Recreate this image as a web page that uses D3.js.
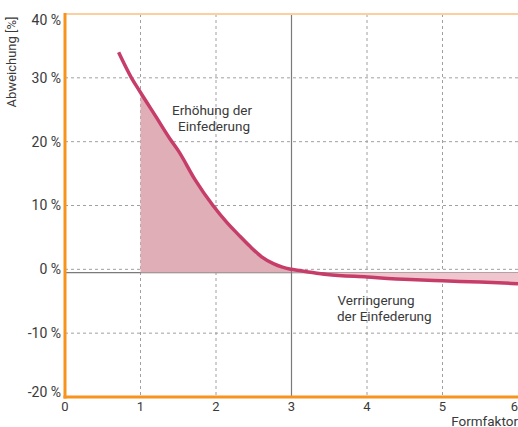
<!DOCTYPE html>
<html><head><meta charset="utf-8">
<script src="https://cdn.jsdelivr.net/npm/d3@7"></script>
<style>body{margin:0;background:#fff}svg{display:block}text{font-family:Roboto,"Liberation Sans",sans-serif;fill:#3a3a3a}</style>
</head><body>
<svg id="c" width="518" height="427"></svg>
<script>
const xTicks = [0,1,2,3,4,5,6];
const yTicks = [-20,-10,0,10,20,30,40];
const curveX = [0.71,0.88,0.99,1.20,1.41,1.50,1.72,1.96,2.14,2.30,2.45,2.60,2.76,2.88,3.00,3.25,3.47,4.00,4.57,5.00,5.50,6.00];
const curveY = [34.0,30.0,27.9,24.0,20.1,18.6,14.1,10.0,7.4,5.4,3.6,2.0,0.9,0.35,0.0,-0.45,-0.8,-1.2,-1.6,-1.8,-2.0,-2.25];
const baseline = -0.5;
const fillStart = 1, split = 3;

const svg = d3.select("#c");
const x = d3.scaleLinear().domain([0,6]).range([65,518]);
const y = d3.scaleLinear().domain([-20,40]).range([397,14]);
const pts = curveX.map((v,i)=>[v,curveY[i]]);

// grid
const g = svg.append("g");
g.selectAll(".vg").data(xTicks.filter(d=>d>0&&d<6&&d!==3)).enter().append("line")
  .attr("x1",d=>x(d)).attr("x2",d=>x(d)).attr("y1",y(40)).attr("y2",y(-20))
  .attr("stroke","#a0a0a0").attr("stroke-width",1).attr("stroke-dasharray","3,3");
g.selectAll(".hg").data(yTicks.filter(d=>d>-20&&d<40)).enter().append("line")
  .attr("x1",x(0)).attr("x2",x(6)).attr("y1",d=>y(d)).attr("y2",d=>y(d))
  .attr("stroke","#a0a0a0").attr("stroke-width",1).attr("stroke-dasharray","3,3");

// fill areas
function interp(xv){
  for(let i=0;i<pts.length-1;i++){ if(xv>=pts[i][0]&&xv<=pts[i+1][0]){const t=(xv-pts[i][0])/(pts[i+1][0]-pts[i][0]);return pts[i][1]+t*(pts[i+1][1]-pts[i][1]);} }
  return pts[pts.length-1][1];
}
const leftPts = [[fillStart,interp(fillStart)]].concat(pts.filter(p=>p[0]>fillStart&&p[0]<=split));
const rightPts = pts.filter(p=>p[0]>=split);
const area = d3.area().x(d=>x(d[0])).y0(y(baseline)).y1(d=>y(d[1])).curve(d3.curveMonotoneX);

// baseline and vertical line
svg.append("line").attr("x1",x(0)).attr("x2",x(6)).attr("y1",y(baseline)).attr("y2",y(baseline))
  .attr("stroke","#7a7a7a").attr("stroke-width",1.2);
svg.append("path").datum(leftPts).attr("d",area).attr("fill","#e0aeb7");
svg.append("path").datum(rightPts).attr("d",area).attr("fill","#f0c6ce");
svg.append("line").attr("x1",x(3)).attr("x2",x(3)).attr("y1",y(40)).attr("y2",y(-20))
  .attr("stroke","#7a7a7a").attr("stroke-width",1.2);

// curve
svg.append("path").datum(pts).attr("d",d3.line().x(d=>x(d[0])).y(d=>y(d[1])).curve(d3.curveMonotoneX))
  .attr("fill","none").attr("stroke","#c63d6a").attr("stroke-width",3.5).attr("stroke-linecap","butt");

// axes frame
svg.append("line").attr("x1",x(0)).attr("x2",518).attr("y1",y(40)).attr("y2",y(40)).attr("stroke","#fbcf9f").attr("stroke-width",2);
svg.append("line").attr("x1",x(0)).attr("x2",x(0)).attr("y1",y(40)-1).attr("y2",y(-20)+1.5).attr("stroke","#f7941d").attr("stroke-width",3);
svg.append("line").attr("x1",x(0)-1.5).attr("x2",518).attr("y1",y(-20)).attr("y2",y(-20)).attr("stroke","#f7941d").attr("stroke-width",3);

// y tick labels
svg.selectAll(".yl").data(yTicks).enter().append("text")
  .attr("x",61).attr("y",d=>Math.min(Math.max(y(d),20),392)).attr("dy","0.35em")
  .attr("text-anchor","end").style("font-size","14px").text(d=>d+" %");
// x tick labels
svg.selectAll(".xl").data(xTicks).enter().append("text")
  .attr("x",d=>Math.min(x(d),514.5)).attr("y",406).attr("dy","0.35em")
  .attr("text-anchor","middle").style("font-size","13px").text(d=>d);
svg.append("text").attr("x",518).attr("y",425.5).attr("text-anchor","end").style("font-size","13.5px").text("Formfaktor");
svg.append("text").attr("transform","translate(16,62) rotate(-90)").attr("text-anchor","middle").style("font-size","13px").text("Abweichung [%]");

// annotations
const ann = svg.append("g").style("font-size","13.5px");
ann.append("text").attr("x",212).attr("y",110.5).attr("dy","0.35em").attr("text-anchor","middle").text("Erhöhung der");
ann.append("text").attr("x",214).attr("y",126.5).attr("dy","0.35em").attr("text-anchor","middle").text("Einfederung");
ann.append("text").attr("x",337.5).attr("y",300.5).attr("dy","0.35em").text("Verringerung");
ann.append("text").attr("x",337).attr("y",316.5).attr("dy","0.35em").text("der Einfederung");
</script>
</body></html>
